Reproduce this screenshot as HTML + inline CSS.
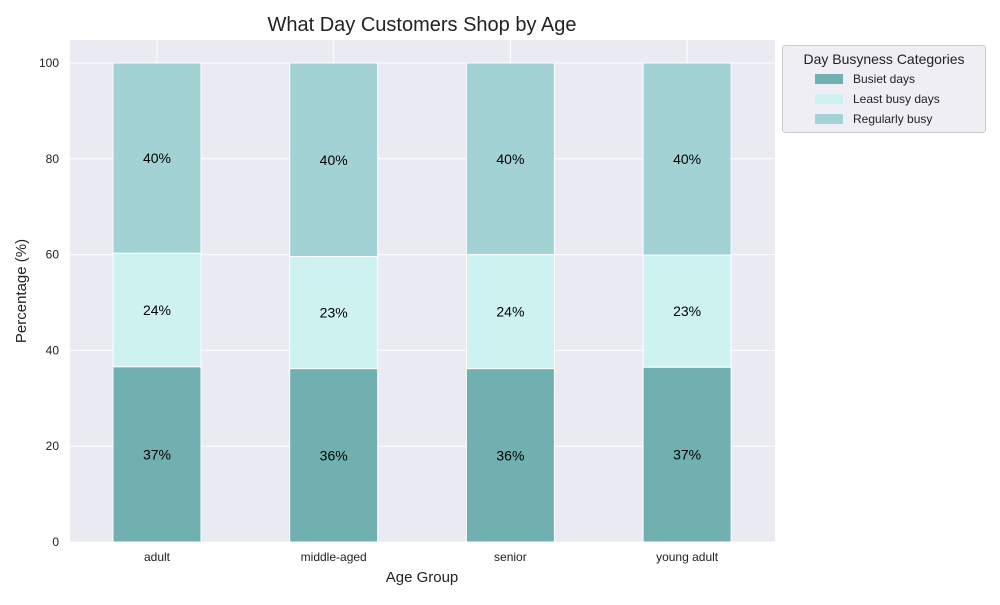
<!DOCTYPE html>
<html><head><meta charset="utf-8"><style>
body{margin:0;background:#fff;font-family:"Liberation Sans",Arial,sans-serif}
</style></head><body>
<svg width="1000" height="600" xmlns="http://www.w3.org/2000/svg" font-family="Liberation Sans, Arial, sans-serif">
<text x="422" y="31" font-size="20" text-anchor="middle" fill="#222">What Day Customers Shop by Age</text>
<rect x="70" y="40" width="705" height="502" fill="#eaeaf2"/>
<g id="grid"></g><g id="bars"></g><g id="axes"></g>
<text x="422" y="582" font-size="15" text-anchor="middle" fill="#222">Age Group</text>
<text transform="translate(26,291) rotate(-90)" font-size="15" text-anchor="middle" fill="#222">Percentage (%)</text>
<g>
<rect x="782.5" y="45.5" width="203" height="87" rx="3" fill="#eeeef4" stroke="#ccc"/>
<text x="884" y="64" font-size="14" text-anchor="middle" fill="#222">Day Busyness Categories</text>
<g id="legend-items"></g>
</g>
</svg>
<script>
const categories=["adult","middle-aged","senior","young adult"];
const seriesNames=["Busiet days","Least busy days","Regularly busy"];
const busiest=[36.6,36.2,36.2,36.5];
const leastBusy=[23.7,23.4,23.8,23.4];
const regular=[39.7,40.4,40.0,40.1];
const yTicks=[0,20,40,60,80,100];
const colors=["#70b0b0","#cdf2f0","#a2d2d4"];
const NS="http://www.w3.org/2000/svg";
const y=v=>542-v*4.79;
const x=i=>157+i*176.7;
const bw=88;
function mk(t,a,p){const e=document.createElementNS(NS,t);for(const k in a)e.setAttribute(k,a[k]);p.appendChild(e);return e;}
const grid=document.getElementById('grid'),bars=document.getElementById('bars'),axes=document.getElementById('axes');
yTicks.forEach(t=>{
 const l=mk('line',{x1:70,x2:775,y1:y(t),y2:y(t),stroke:'#fff','stroke-width':1},grid);
 
 
 const tx=mk('text',{x:59,y:y(t)+4,'font-size':12,'text-anchor':'end',fill:'#222'},axes);
 tx.textContent=t;
 
 
});
categories.forEach((c,i)=>{
 const l=mk('line',{x1:x(i),x2:x(i),y1:40,y2:542,stroke:'#fff','stroke-width':1},grid);
 
 
 const tx=mk('text',{x:x(i),y:561,'font-size':12,'text-anchor':'middle',fill:'#222'},axes);
 tx.textContent=c;
 
 
 let base=0;
 [busiest,leastBusy,regular].forEach((s,j)=>{
  const v=s[i];
  const r=mk('rect',{x:x(i)-bw/2,y:y(base+v),width:bw,height:v*4.79,fill:colors[j],stroke:'#fff','stroke-width':1},bars);
  
  
  const lb=mk('text',{x:x(i),y:y(base+v/2)+5,'font-size':14,'text-anchor':'middle',fill:'#000'},bars);
  lb.textContent=Math.round(v)+'%';
  
  
  base+=v;
 });
});
const li=document.getElementById('legend-items');
seriesNames.forEach((n,j)=>{
 const g=mk('g',{},li);
 
 
 mk('rect',{x:815,y:74+j*20,width:28,height:10,fill:colors[j]},g);
 const t=mk('text',{x:853,y:83+j*20,'font-size':12,fill:'#222'},g);
 t.textContent=n;
});
</script>
</body></html>
